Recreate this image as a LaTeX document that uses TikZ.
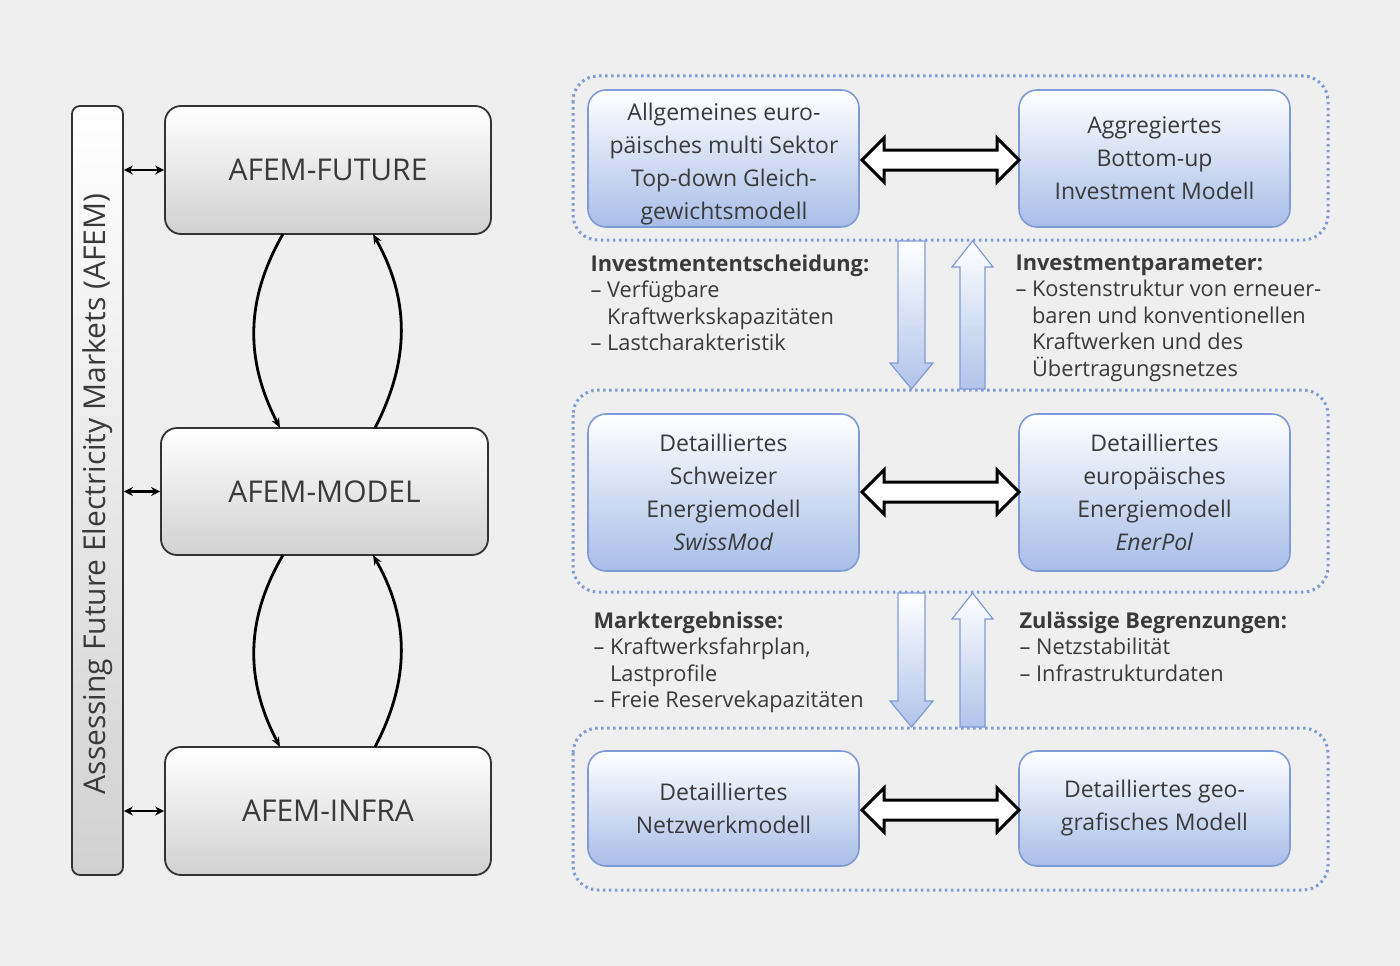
\documentclass[tikz,border=0pt]{standalone}
\usepackage{fontspec}
\setmainfont{Open Sans}
\usetikzlibrary{arrows.meta}
\definecolor{bg}{HTML}{EFEFEF}
\definecolor{bluebd}{HTML}{7F9BD6}
\definecolor{bluefill}{HTML}{A8BDE8}
\definecolor{txt}{HTML}{3A3A3A}
\begin{document}
\begin{tikzpicture}[x=1pt,y=-1pt,
 gbox/.style={draw=black!80,line width=1.8pt,rounded corners=16pt,top color=white,bottom color=black!18,text=txt,font=\fontsize{30}{34}\selectfont},
 bbox/.style={draw=bluebd,line width=1.6pt,rounded corners=18pt,top color=white,bottom color=bluefill,text=txt,align=center,font=\fontsize{23}{33}\selectfont},
 frame/.style={draw=bluebd,line width=3pt,dash pattern=on 2.5pt off 3.5pt,rounded corners=25pt},
 small/.style={<->,>={Stealth[length=9pt,width=9pt]},line width=2.2pt},
 curve/.style={->,>={Stealth[length=10pt,width=8pt]},line width=2.8pt},
 dbl/.style={draw=black,line width=3pt,fill=white,line join=miter},
 varr/.style={draw=bluebd,line width=1.2pt,top color=white,bottom color=bluefill!90},
 lab/.style={anchor=north west,align=left,text=txt,font=\fontsize{21.8}{26.5}\selectfont}]
\fill[bg] (0,0) rectangle (1400,966);
\useasboundingbox (0,0) rectangle (1400,966);
% left part
\node[gbox,rounded corners=8pt,minimum width=51pt,minimum height=769pt] (bar) at (97.5,490.5) {};
\node[rotate=90,text=txt,font=\fontsize{30}{34}\selectfont] (bartxt) at (97.5,494) {Assessing Future Electricity Markets (AFEM)};
\node[gbox,minimum width=326pt,minimum height=128pt] (fut) at (328,170) {AFEM-FUTURE};
\node[gbox,minimum width=327pt,minimum height=127pt] (mod) at (324.5,491.5) {AFEM-MODEL};
\node[gbox,minimum width=326pt,minimum height=128pt] (inf) at (328,811) {AFEM-INFRA};
\draw[small] (bar.east|-fut.west) -- (fut.west);
\draw[small] (bar.east|-mod.west) -- (mod.west);
\draw[small] (bar.east|-inf.west) -- (inf.west);
\coordinate (a1) at (283,234); \coordinate (a2) at (280,428);
\coordinate (b1) at (375,428); \coordinate (b2) at (373,234);
\draw[curve] (a1) .. controls (245,300) and (245,360) .. (a2);
\draw[curve] (b1) .. controls (410,360) and (410,300) .. (b2);
\coordinate (c1) at (283,555); \coordinate (c2) at (280,747);
\coordinate (d1) at (375,747); \coordinate (d2) at (373,555);
\draw[curve] (c1) .. controls (245,620) and (245,680) .. (c2);
\draw[curve] (d1) .. controls (410,680) and (410,620) .. (d2);
% right frames
\draw[frame] (573,76) rectangle (1328,240);
\draw[frame] (573,390) rectangle (1328,592);
\draw[frame] (573,728) rectangle (1328,890);
\node[bbox,minimum width=271pt,minimum height=137pt] (r1l) at (723.5,158.5) {};
\node[text=txt,align=center,font=\fontsize{23}{33}\selectfont] (r1lt) at (724,164) {Allgemeines euro-\\päisches multi Sektor\\Top-down Gleich-\\gewichtsmodell};
\node[bbox,minimum width=271pt,minimum height=137pt] (r1r) at (1154.5,158.5) {Aggregiertes\\Bottom-up\\Investment Modell};
\node[bbox,minimum width=271pt,minimum height=157pt] (r2l) at (723.5,492.5) {Detailliertes\\Schweizer\\Energiemodell\\\textit{SwissMod}};
\node[bbox,minimum width=271pt,minimum height=157pt] (r2r) at (1154.5,492.5) {Detailliertes\\europäisches\\Energiemodell\\\textit{EnerPol}};
\node[bbox,minimum width=271pt,minimum height=115pt] (r3l) at (723.5,808.5) {Detailliertes\\Netzwerkmodell};
\node[bbox,minimum width=271pt,minimum height=115pt] (r3r) at (1154.5,808.5) {Detailliertes geo-\\grafisches Modell};
% double block arrows
\foreach \y in {160,492,810}{
 \draw[dbl] (862,\y) -- (884,\y-22) -- (884,\y-10) -- (997,\y-10) -- (997,\y-22) -- (1019,\y) -- (997,\y+22) -- (997,\y+10) -- (884,\y+10) -- (884,\y+22) -- cycle;
}
% vertical block arrows
\foreach \t/\b in {241/389,593/727}{
 \draw[varr] (898,\t) -- (925,\t) -- (925,\b-26) -- (933,\b-26) -- (911.5,\b) -- (890,\b-26) -- (898,\b-26) -- cycle;
 \draw[varr] (960,\b) -- (985,\b) -- (985,\t+26) -- (993,\t+26) -- (972.5,\t) -- (952,\t+26) -- (960,\t+26) -- cycle;
}
\node[lab] (l1) at (587,251) {\textbf{Investmententscheidung:}\\– Verfügbare\\\phantom{– }Kraftwerkskapazitäten\\– Lastcharakteristik};
\node[lab] (l2) at (1012,251) {\textbf{Investmentparameter:}\\– Kostenstruktur von erneuer-\\\phantom{– }baren und konventionellen\\\phantom{– }Kraftwerken und des\\\phantom{– }Übertragungsnetzes};
\node[lab] (l3) at (590,608) {\textbf{Marktergebnisse:}\\– Kraftwerksfahrplan,\\\phantom{– }Lastprofile\\– Freie Reservekapazitäten};
\node[lab] (l4) at (1016,608) {\textbf{Zulässige Begrenzungen:}\\– Netzstabilität\\– Infrastrukturdaten};
\end{tikzpicture}
\end{document}
